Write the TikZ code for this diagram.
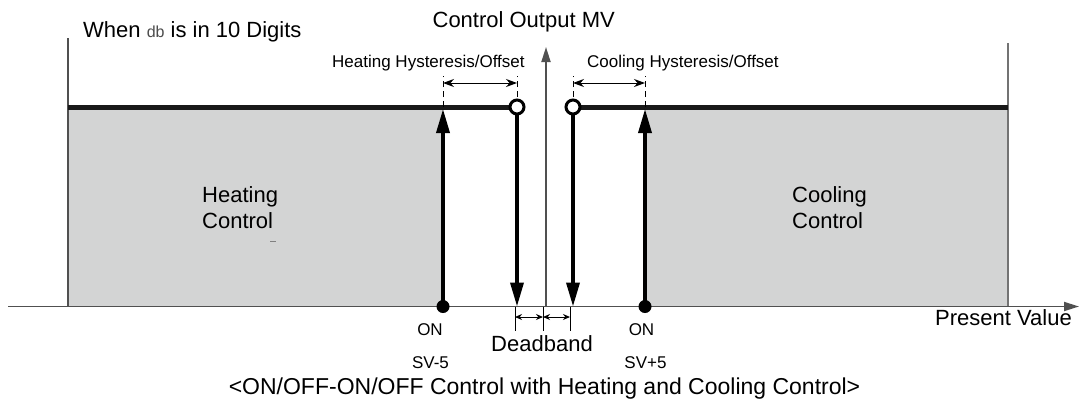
\documentclass[tikz,border=0pt]{standalone}
\usepackage{fontspec}
\setmainfont{Liberation Sans}
\usetikzlibrary{arrows.meta}
\definecolor{fillgray}{RGB}{211,212,212}
\definecolor{axisgray}{RGB}{80,80,80}
\begin{document}
\begin{tikzpicture}[x=1pt,y=-1pt,
  big/.style={font=\fontsize{22}{26}\selectfont, inner sep=0pt},
  small/.style={font=\fontsize{17}{20}\selectfont, inner sep=0pt},
  axisline/.style={draw=axisgray, line width=1.8pt},
  axisarrow/.style={draw=axisgray, line width=1.8pt, -{Triangle[length=15pt,width=9pt]}},
  level/.style={line width=5pt, draw=black!90},
  switcharrow/.style={line width=3.5pt, -{Triangle[length=24pt,width=13pt]}},
  opendot/.style={circle, draw=black, line width=3pt, fill=white, minimum size=14pt, inner sep=0pt},
  fulldot/.style={circle, fill=black, minimum size=13pt, inner sep=0pt},
  guide/.style={line width=1pt, dash pattern=on 6pt off 4pt},
  dimarrow/.style={line width=1pt, {Stealth[length=11pt,width=8pt]}-{Stealth[length=11pt,width=8pt]}},
  smalldim/.style={line width=1pt, {Stealth[length=7pt,width=6pt]}-{Stealth[length=7pt,width=6pt]}},
]
\useasboundingbox (0,0) rectangle (1085,408);

% gray regions
\fill[fillgray] (68,107) rectangle (443,306.5);
\fill[fillgray] (645,107) rectangle (1008,306.5);

% key coordinates
\coordinate (axL) at (8,306.5);
\coordinate (axR) at (1079,306.5);
\coordinate (O) at (546,306.5);
\coordinate (mvtop) at (546,47);
\coordinate (lTop) at (68,38);
\coordinate (lBot) at (68,306.5);
\coordinate (rTop) at (1008,43);
\coordinate (rBot) at (1008,306.5);
\coordinate (lvL) at (68,107);
\coordinate (lvR) at (1008,107);
\coordinate (hcC) at (517,107);
\coordinate (ccC) at (573,107);
\coordinate (onLc) at (443,306.5);
\coordinate (onRc) at (645,306.5);
\coordinate (hlvl) at (443,107);
\coordinate (clvl) at (645,107);
\coordinate (hlvlTip) at (443,109);
\coordinate (clvlTip) at (645,109);

% frame and axes
\draw[axisline] (lTop) -- (lBot);
\draw[axisline, draw=axisgray!80] (rTop) -- (rBot);
\draw[axisarrow] (axL) -- (axR);
\draw[axisarrow] (O) -- (mvtop);

% output levels
\draw[level] (lvL) -- (hcC);
\draw[level] (ccC) -- (lvR);

% dashed guides
\coordinate (g1t) at (443,76);
\coordinate (g2t) at (517,76);
\coordinate (g3t) at (573,76);
\coordinate (g4t) at (645,76);
\draw[guide] (hlvl) -- (g1t);
\draw[guide] (hcC) -- (g2t);
\draw[guide] (ccC) -- (g3t);
\draw[guide] (clvl) -- (g4t);

% hysteresis arrows
\coordinate (h1) at (443,83);
\coordinate (h2) at (517,83);
\coordinate (h3) at (573,83);
\coordinate (h4) at (645,83);
\draw[dimarrow] (h1) -- (h2);
\draw[dimarrow] (h3) -- (h4);

% switching arrows
\coordinate (hcBot) at (517,306.5);
\coordinate (ccBot) at (573,306.5);
\draw[switcharrow] (hcC) -- (hcBot);
\draw[switcharrow] (ccC) -- (ccBot);
\draw[switcharrow] (onLc) -- (hlvlTip);
\draw[switcharrow] (onRc) -- (clvlTip);

% dots
\node[opendot] (hc) at (hcC) {};
\node[opendot] (cc) at (ccC) {};
\node[fulldot] (onL) at (onLc) {};
\node[fulldot] (onR) at (onRc) {};

% deadband dimension
\coordinate (d1) at (515,306.5);
\coordinate (d2) at (543,306.5);
\coordinate (d3) at (570,306.5);
\coordinate (d1b) at (515,331);
\coordinate (d2b) at (543,331);
\coordinate (d3b) at (570,331);
\draw[line width=1pt] (d1) -- (d1b);
\draw[line width=1pt] (d2) -- (d2b);
\draw[line width=1pt] (d3) -- (d3b);
\coordinate (e1) at (515,317);
\coordinate (e2) at (543,317);
\coordinate (e3) at (570,317);
\draw[smalldim] (e1) -- (e2);
\draw[smalldim] (e2) -- (e3);

% small mark
\draw[gray, line width=1pt] (270,241) -- (276,241);

% texts
\node[big, anchor=base west] (when) at (83,37) {When {\fontsize{16}{16}\selectfont\color{black!70}db} is in 10 Digits};
\node[big, anchor=base east] (mv) at (615,27) {Control Output MV};
\node[small, anchor=base west] (hh) at (332,67) {Heating Hysteresis/Offset};
\node[small, anchor=base west] (ch) at (587,67) {Cooling Hysteresis/Offset};
\node[big, anchor=base west] (heat1) at (202,202) {Heating};
\node[big, anchor=base west] (heat2) at (202,228) {Control};
\node[big, anchor=base west] (cool1) at (792,202) {Cooling};
\node[big, anchor=base west] (cool2) at (792,228) {Control};
\node[small, anchor=base] (onLt) at (430,335) {ON};
\node[small, anchor=base] (svL) at (430.5,368) {SV-5};
\node[small, anchor=base] (onRt) at (641.5,335) {ON};
\node[small, anchor=base] (svR) at (645.5,368) {SV+5};
\node[big, anchor=base] (db) at (542,351) {Deadband};
\node[big, anchor=base west] (pv) at (935,325) {Present Value};
\node[font=\fontsize{23}{26}\selectfont, inner sep=0pt, anchor=base] (cap) at (544.5,394) {<ON/OFF-ON/OFF Control with Heating and Cooling Control>};
\end{tikzpicture}
\end{document}
